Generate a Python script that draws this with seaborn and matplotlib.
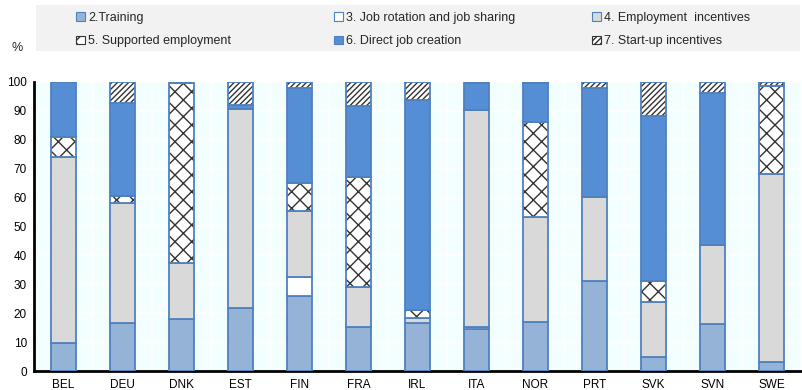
import numpy as np
import pandas as pd
import matplotlib
matplotlib.use("Agg")
import matplotlib.pyplot as plt
from matplotlib.patches import Patch, Rectangle
import seaborn as sns

countries = ["BEL", "DEU", "DNK", "EST", "FIN", "FRA", "IRL", "ITA", "NOR", "PRT", "SVK", "SVN", "SWE"]

training = [9.8, 16.7, 17.9, 21.9, 25.9, 15.1, 16.7, 14.6, 17.1, 31.2, 4.7, 16.1, 3.1]
job_rotation = [0, 0, 0, 0, 6.7, 0, 0, 0.7, 0, 0, 0, 0, 0]
employment_incentives = [64.3, 41.5, 19.5, 68.9, 22.8, 14.0, 1.5, 74.9, 36.2, 29.1, 19.3, 27.4, 64.9]
supported_employment = [6.7, 2.3, 62.3, 0, 9.8, 38.1, 2.9, 0, 32.9, 0, 7.2, 0, 30.6]
direct_job_creation = [19.2, 32.2, 0, 1.4, 32.8, 24.5, 72.6, 9.6, 13.5, 37.7, 57.0, 52.7, 0]
startup_incentives = [0, 7.3, 0, 7.8, 2.0, 8.3, 6.3, 0, 0.3, 2.0, 11.8, 3.8, 1.4]

labels = ["2.Training", "3. Job rotation and job sharing", "4. Employment  incentives",
          "5. Supported employment", "6. Direct job creation", "7. Start-up incentives"]

series = [training, job_rotation, employment_incentives,
          supported_employment, direct_job_creation, startup_incentives]

styles = [
    dict(color="#95B3D7", hatch=None),
    dict(color="#FFFFFF", hatch=None),
    dict(color="#D9D9D9", hatch=None),
    dict(color="#FFFFFF", hatch="xx"),
    dict(color="#558ED5", hatch=None),
    dict(color="#FFFFFF", hatch="//////"),
]

edge_blue = "#4F81BD"
bg = "#F3FEFE"

sns.set_theme(style="white")
plt.rcParams["font.family"] = ["Liberation Sans", "DejaVu Sans"]
plt.rcParams["hatch.linewidth"] = 1.0

fig = plt.figure(figsize=(8.03, 3.90), dpi=100)
ax = fig.add_axes([34 / 803, 1 - 371 / 390, (801 - 34) / 803, (371 - 82) / 390])
ax.set_facecolor(bg)

bar_width = 0.42
bottom = np.zeros(len(countries))
for vals, st in zip(series, styles):
    vals = np.asarray(vals, dtype=float)
    df = pd.DataFrame({"country": countries, "value": vals})
    if st["hatch"]:
        # hatch layer in dark grey, then blue outline on top
        sns.barplot(data=df, x="country", y="value", bottom=bottom, color=st["color"],
                    hatch=st["hatch"], edgecolor="#333333", linewidth=0,
                    width=bar_width, saturation=1, ax=ax, zorder=3)
        sns.barplot(data=df, x="country", y="value", bottom=bottom, fill=False,
                    edgecolor=edge_blue, linewidth=1.3, color=edge_blue,
                    width=bar_width, ax=ax, zorder=4)
    else:
        sns.barplot(data=df, x="country", y="value", bottom=bottom, color=st["color"],
                    edgecolor=edge_blue, linewidth=1.3,
                    width=bar_width, saturation=1, ax=ax, zorder=3)
    bottom = bottom + vals

ax.set_xlim(-0.5, len(countries) - 0.5)
ax.set_ylim(0, 100)
ax.set_yticks(np.arange(0, 101, 10))
ax.set_xlabel("")
ax.set_ylabel("")

# white grid: horizontal at each 10, vertical at category boundaries
ax.set_xticks(np.arange(len(countries)))
ax.set_xticklabels(countries)
ax.set_xticks(np.arange(len(countries) - 1) + 0.5, minor=True)
ax.grid(False)
ax.yaxis.grid(True, color="white", linewidth=1.2, zorder=0)
ax.xaxis.grid(True, which="minor", color="white", linewidth=1.2, zorder=0)
ax.set_axisbelow(True)

ax.tick_params(axis="x", which="major", length=0, pad=6, labelsize=8.5, colors="black")
ax.tick_params(axis="x", which="minor", direction="in", length=4, width=1, color="black")
ax.tick_params(axis="y", which="major", direction="in", length=5, width=1.2, color="black",
               labelsize=8.5, pad=5)
for t in ax.get_yticklabels() + ax.get_xticklabels():
    t.set_color("black")

for s in ["top", "right"]:
    ax.spines[s].set_visible(False)
for s in ["left", "bottom"]:
    ax.spines[s].set_color("black")
    ax.spines[s].set_linewidth(2)

fig.text(12 / 803, 1 - 48 / 390, "%", fontsize=9, ha="left", va="center")

# legend panel: grey band with three columns of two entries
fig.patches.append(Rectangle((36 / 803, 1 - 51 / 390), (800 - 36) / 803, 46 / 390,
                             transform=fig.transFigure, facecolor="#F2F2F2",
                             edgecolor="none", zorder=0))
handles = [Patch(facecolor=st["color"], edgecolor=edge_blue if not st["hatch"] else "#333333",
                 hatch=st["hatch"], linewidth=0.8) for st in styles]
col_x = [66, 324, 582]
for c in range(3):
    idx = [c, c + 3]
    fig.legend([handles[i] for i in idx], [labels[i] for i in idx],
               ncol=1, loc="upper left", bbox_to_anchor=(col_x[c] / 803, 1 - 2 / 390),
               frameon=False, handlelength=0.7, handleheight=0.7, handletextpad=0.3,
               labelspacing=0.9, borderpad=0.3, prop={"size": 9})

fig.savefig("out.png", dpi=100)
